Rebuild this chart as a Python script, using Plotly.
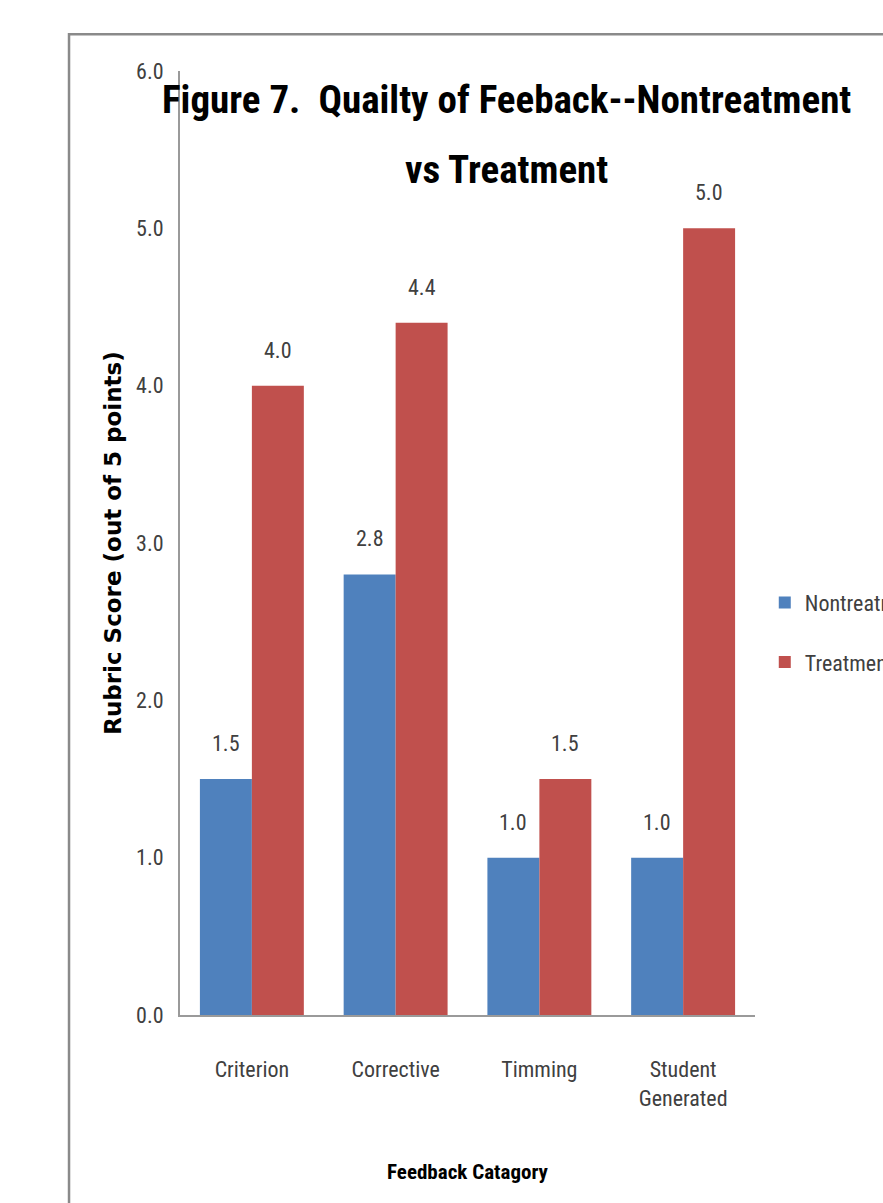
import plotly.graph_objects as go

# Feedback quality rubric scores, nontreatment vs treatment groups
categories = ["Criterion", "Corrective", "Timming", "Student<br>Generated"]
nontreatment = [1.5, 2.8, 1.0, 1.0]
treatment = [4.0, 4.4, 1.5, 5.0]
y_ticks = [0, 1, 2, 3, 4, 5, 6]
y_tick_labels = ["0.0", "1.0", "2.0", "3.0", "4.0", "5.0", "6.0"]

BLUE = "#4F81BD"
RED = "#C0504D"
NARROW = "Roboto Condensed, DejaVu Sans Condensed, sans-serif"
TEXT_GRAY = "#404040"

fig = go.Figure()
fig.add_trace(go.Bar(
    x=categories, y=nontreatment, name="Nontreatment",
    marker=dict(color=BLUE, line=dict(width=0)), legendgroup="a",
))
fig.add_trace(go.Bar(
    x=categories, y=treatment, name="Treatment",
    marker=dict(color=RED, line=dict(width=0)), legendgroup="b",
))

# value labels above each bar
bar_half = 26
for series, shift in ((nontreatment, -bar_half), (treatment, bar_half)):
    for cat, val in zip(categories, series):
        fig.add_annotation(
            x=cat, y=val, text=f"{val:.1f}", showarrow=False,
            xshift=shift, yshift=21, yanchor="bottom",
            font=dict(family=NARROW, size=22, color=TEXT_GRAY),
        )

# two-line chart title
fig.add_annotation(
    xref="paper", yref="paper", x=0.568, y=0.969,
    text="<b>Figure 7.  Quailty of Feeback--Nontreatment</b>",
    showarrow=False, xanchor="center", yanchor="middle",
    font=dict(family=NARROW, size=39, color="black"),
)
fig.add_annotation(
    xref="paper", yref="paper", x=0.568, y=0.895,
    text="<b>vs Treatment</b>",
    showarrow=False, xanchor="center", yanchor="middle",
    font=dict(family=NARROW, size=39, color="black"),
)

# outer chart border
fig.add_shape(
    type="rect", xref="paper", yref="paper",
    x0=-0.193, x1=2.0, y0=-1.0, y1=1.039,
    line=dict(color="#8a8a8a", width=2.5), fillcolor="rgba(0,0,0,0)",
    layer="below",
)

fig.update_layout(
    width=883, height=1203,
    margin=dict(l=180, r=128, t=71, b=188, autoexpand=False),
    paper_bgcolor="white", plot_bgcolor="white",
    barmode="group", bargap=0.277, bargroupgap=0,
    showlegend=True,
    legend=dict(
        x=1.017, y=0.405, xanchor="left", yanchor="middle",
        traceorder="grouped", tracegroupgap=28,
        font=dict(family=NARROW, size=22, color=TEXT_GRAY),
        bgcolor="rgba(0,0,0,0)",
    ),
    xaxis=dict(
        showline=True, linecolor="#9a9a9a", linewidth=2,
        ticks="", showgrid=False, zeroline=False,
        tickfont=dict(family=NARROW, size=22, color=TEXT_GRAY),
        ticklabelstandoff=34,
        title=dict(text="<b>Feedback Catagory</b>", standoff=54,
                   font=dict(family=NARROW, size=21, color="black")),
    ),
    yaxis=dict(
        range=[0, 6], tickvals=y_ticks, ticktext=y_tick_labels,
        showline=True, linecolor="#9a9a9a", linewidth=2,
        ticks="", showgrid=False, zeroline=False,
        tickfont=dict(family=NARROW, size=22, color=TEXT_GRAY),
        ticklabelstandoff=10,
        title=dict(text="<b>Rubric Score (out of 5 points)</b>", standoff=8,
                   font=dict(family="DejaVu Sans", size=23, color="black")),
    ),
)

fig.write_html("out.html")
